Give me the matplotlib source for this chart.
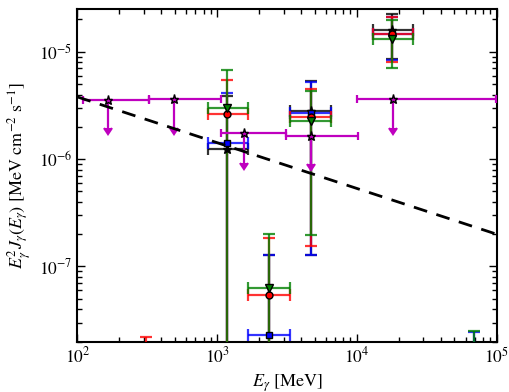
import numpy as np
import matplotlib
matplotlib.use('Agg')
import matplotlib.pyplot as plt

plt.rcParams['font.family'] = 'serif'
plt.rcParams['font.serif'] = ['STIXGeneral', 'Liberation Serif', 'DejaVu Serif']
plt.rcParams['mathtext.fontset'] = 'stix'

# energy bins [MeV]
e_mid = [312, 1186, 2355, 4690, 18000, 69000]
e_min = [250, 858, 1675, 3300, 13060, 55000]
e_max = [390, 1675, 3335, 6520, 25400, 86000]

# flux points per data set: bin index, value, lower bound, upper bound
black_idx = [1, 2, 3, 4]
black_val = [1.23e-6, 1.5e-8, 2.80e-6, 1.61e-5]
black_lo  = [1e-9, 1e-9, 1.27e-7, 8.64e-6]
black_hi  = [3.87e-6, 1.28e-7, 5.30e-6, 2.24e-5]

blue_idx = [1, 2, 3, 4, 5]
blue_val = [1.41e-6, 2.28e-8, 2.69e-6, 1.47e-5, 1e-8]
blue_lo  = [1e-9, 1e-9, 1.27e-7, 8.33e-6, 1e-9]
blue_hi  = [4.16e-6, 1.28e-7, 5.19e-6, 2.10e-5, 2.45e-8]

red_idx = [0, 1, 2, 3, 4]
red_val = [1e-8, 2.64e-6, 5.42e-8, 2.47e-6, 1.48e-5]
red_lo  = [1e-9, 1e-9, 1e-9, 1.56e-7, 8.03e-6]
red_hi  = [2.19e-8, 5.42e-6, 1.86e-7, 4.51e-6, 2.09e-5]

green_idx = [1, 2, 3, 4, 5]
green_val = [2.99e-6, 6.29e-8, 2.29e-6, 1.33e-5, 1e-8]
green_lo  = [1e-9, 1e-9, 1.96e-7, 7.1e-6, 1e-9]
green_hi  = [6.72e-6, 2.0e-7, 4.32e-6, 1.97e-5, 2.5e-8]

# upper limits (magenta)
ul_e    = [165, 494, 1560, 4710, 18100]
ul_emin = [110, 326, 1066, 3120, 10000]
ul_emax = [326, 1066, 3120, 10160, 99000]
ul_val  = [3.57e-6, 3.60e-6, 1.74e-6, 1.63e-6, 3.65e-6]
ul_tip  = [1.97e-6, 1.97e-6, 9.3e-7, 9.1e-7, 1.97e-6]

# power law (dashed)
pl_e = [100, 1e5]
pl_f = [3.8e-6, 2.0e-7]

fig = plt.figure(figsize=(5.1, 3.92), dpi=100)
ax = fig.add_axes([0.1516, 0.1288, 0.822, 0.848])

sets = [
    (black_idx, black_val, black_lo, black_hi, 'k', '*', 6.5),
    (blue_idx, blue_val, blue_lo, blue_hi, 'b', 's', 5),
    (red_idx, red_val, red_lo, red_hi, 'r', 'o', 5),
    (green_idx, green_val, green_lo, green_hi, 'g', 'v', 5.5),
]

for idx, val, lo, hi, c, m, ms in sets:
    x = np.array([e_mid[i] for i in idx], dtype=float)
    xl = x - np.array([e_min[i] for i in idx])
    xh = np.array([e_max[i] for i in idx]) - x
    v = np.array(val)
    yl = v - np.array(lo)
    yh = np.array(hi) - v
    eb = ax.errorbar(x, v, xerr=[xl, xh], yerr=[yl, yh], fmt=m, color=c,
                     ecolor=c, mfc=c, mec='k', ms=ms, elinewidth=1.6,
                     capsize=4, capthick=1.6, zorder=3)
    for ln in eb[1]:
        ln.set_alpha(0.8)
    for lc in eb[2]:
        lc.set_alpha(0.8)

x = np.array(ul_e, dtype=float)
v = np.array(ul_val)
ax.errorbar(x, v, xerr=[x - np.array(ul_emin), np.array(ul_emax) - x],
            yerr=[v - np.array(ul_tip), np.zeros(len(v))], uplims=True,
            fmt='*', color='m', ecolor='m', mfc='m', mec='k', ms=6.5,
            elinewidth=1.6, capsize=3, capthick=1.6, zorder=4)

ax.plot(pl_e, pl_f, color='k', lw=2, dashes=(5, 3.5), zorder=5)

ax.set_xscale('log')
ax.set_yscale('log')
ax.set_xlim(1e2, 1e5)
ax.set_ylim(2e-8, 2.5e-5)
ax.tick_params(which='both', direction='in', top=True, right=True, labelsize=12.5)
ax.tick_params(which='major', length=6, width=1)
ax.tick_params(which='minor', length=3.5, width=1)
for s in ax.spines.values():
    s.set_linewidth(1.5)

ax.set_xlabel(r'$E_\gamma$ [MeV]', fontsize=13)
ax.set_ylabel(r'$E_\gamma^2 J_\gamma(E_\gamma)$ [MeV cm$^{-2}$ s$^{-1}$]', fontsize=13)

fig.savefig('out.png', dpi=100)
